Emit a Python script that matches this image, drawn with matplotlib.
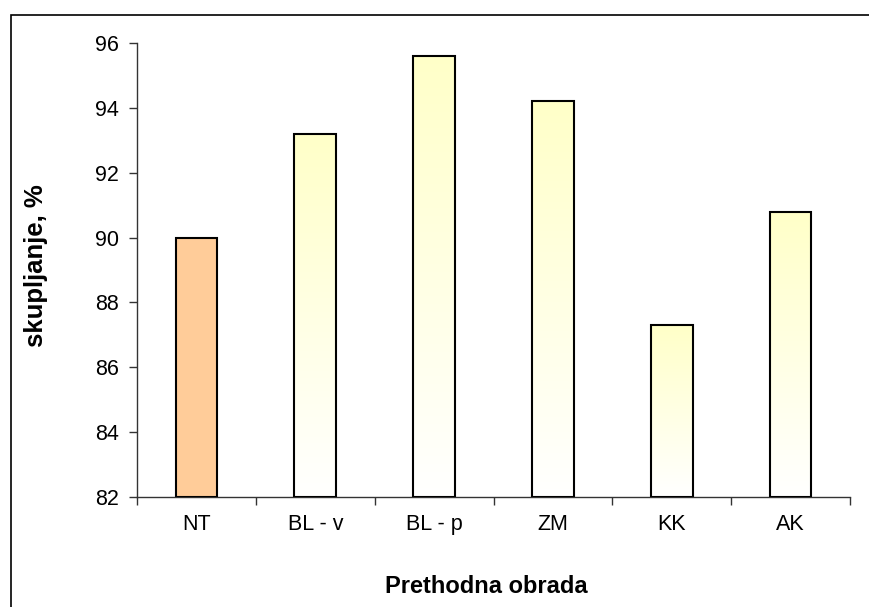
import numpy as np
import matplotlib
matplotlib.use("Agg")
import matplotlib.pyplot as plt
from matplotlib.colors import LinearSegmentedColormap
from matplotlib.patches import Rectangle

categories = ["NT", "BL - v", "BL - p", "ZM", "KK", "AK"]
values = [90.0, 93.2, 95.6, 94.2, 87.3, 90.8]
y_ticks = [82, 84, 86, 88, 90, 92, 94, 96]

plt.rcParams['font.family'] = ['Liberation Sans', 'DejaVu Sans']

W, H = 869, 607
fig = plt.figure(figsize=(W / 100, H / 100), dpi=100)
ax = fig.add_axes([137 / W, 1 - 497 / H, (850 - 137) / W, (497 - 43) / H])

x = np.arange(len(categories))
bars = ax.bar(x, [v - 82 for v in values], bottom=82, width=0.35,
              edgecolor='black', linewidth=1.5, zorder=3)

# yellow -> white gradient for all bars except the first
grad = LinearSegmentedColormap.from_list("g", ["#ffffff", "#ffffc8"])
for i, b in enumerate(bars):
    if i == 0:
        b.set_facecolor("#ffcc99")
        continue
    b.set_facecolor("none")
    x0, y0 = b.get_x(), b.get_y()
    w, h = b.get_width(), b.get_height()
    img = ax.imshow(np.linspace(0, 1, 256).reshape(-1, 1), cmap=grad,
                    extent=[x0, x0 + w, y0, y0 + h], origin='lower',
                    aspect='auto', zorder=2)
    img.set_clip_path(b)

ax.set_xlim(-0.5, len(categories) - 0.5)
ax.set_ylim(82, 96)
ax.set_yticks(y_ticks)
ax.set_yticklabels([str(t) for t in y_ticks], fontsize=15.5)

ax.set_xticks(x)
ax.set_xticklabels(categories, fontsize=15.5)
ax.tick_params(axis='x', which='major', length=0, pad=12.5)
ax.set_xticks(np.arange(len(categories) + 1) - 0.5, minor=True)
ax.tick_params(axis='x', which='minor', length=6, width=1, color='#333333')
ax.tick_params(axis='y', length=6, width=1, color='#333333', pad=7)

for s in ['top', 'right']:
    ax.spines[s].set_visible(False)
for s in ['left', 'bottom']:
    ax.spines[s].set_color('#333333')
    ax.spines[s].set_linewidth(1)

ax.set_xlabel("Prethodna obrada", fontsize=17, fontweight='bold', va='center')
ax.xaxis.set_label_coords(0.49, -0.198)
ax.set_ylabel("skupljanje, %", fontsize=18.5, fontweight='bold', va='center')
ax.yaxis.set_label_coords(-0.141, 0.51)

# outer chart border (cut off at right and bottom)
fig.patches.append(Rectangle((11 / W, -0.05), 1.0, 1 - 15 / H + 0.05,
                             transform=fig.transFigure, fill=False,
                             edgecolor='black', linewidth=1.2))

fig.savefig("out.png", dpi=100)
